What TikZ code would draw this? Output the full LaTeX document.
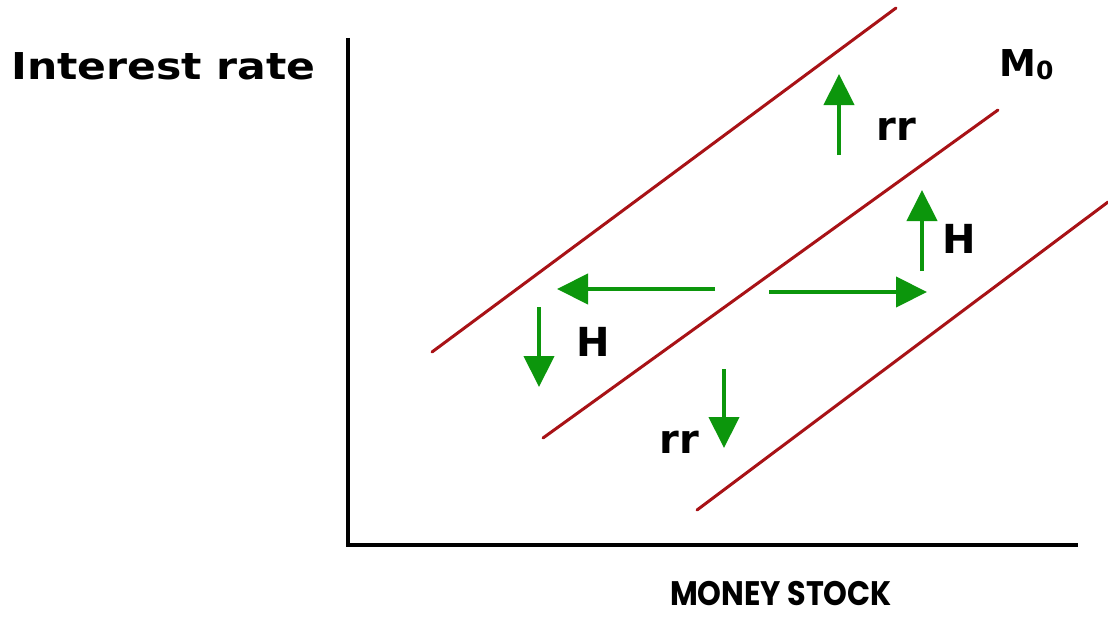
\documentclass[tikz,border=0pt]{standalone}
\usepackage{fontspec}
\setmainfont{DejaVu Sans}
\newfontfamily\verd[FakeStretch=1.15]{DejaVu Sans}
\newfontfamily\popp[FakeStretch=0.89]{Poppins}
\usetikzlibrary{arrows.meta}
\definecolor{redline}{RGB}{168,18,22}
\definecolor{greenarr}{RGB}{12,150,12}
\begin{document}
\begin{tikzpicture}[x=1pt,y=-1pt,
  axis/.style={line width=4pt,black},
  curve/.style={line width=3pt,redline,line cap=round},
  garrow/.style={line width=4.2pt,greenarr,-{Triangle[length=31pt,width=30pt]}},
  lbl/.style={inner sep=0pt,font=\fontsize{40}{40}\bfseries\selectfont},
  title/.style={inner sep=0pt,font=\fontsize{37}{37}\verd\bfseries\selectfont}]
\useasboundingbox (0,0) rectangle (1108,618);
% axes
\coordinate (Ytop) at (348,38);
\coordinate (O) at (348,545);
\coordinate (Xend) at (1078,545);
\draw[axis] (Ytop) -- (O) -- (Xend);
% money supply lines
\coordinate (a1) at (432,352); \coordinate (b1) at (896,8);
\coordinate (a2) at (543,438); \coordinate (b2) at (998,110);
\coordinate (a3) at (697,510); \coordinate (b3) at (1108,202);
\draw[curve] (a1) -- (b1);
\draw[curve] (a2) -- (b2);
\draw[curve] (a3) -- (b3);
% arrows
\coordinate (u1s) at (839,155); \coordinate (u1e) at (839,74);
\coordinate (u2s) at (922,271); \coordinate (u2e) at (922,190);
\coordinate (ls) at (715,289); \coordinate (le) at (557,289);
\coordinate (rs) at (769,292); \coordinate (re) at (927,292);
\coordinate (d1s) at (539,307); \coordinate (d1e) at (539,387);
\coordinate (d2s) at (724,369); \coordinate (d2e) at (724,448);
\draw[garrow] (u1s) -- (u1e);
\draw[garrow] (u2s) -- (u2e);
\draw[garrow] (ls) -- (le);
\draw[garrow] (rs) -- (re);
\draw[garrow] (d1s) -- (d1e);
\draw[garrow] (d2s) -- (d2e);
% labels
\node[lbl,anchor=base] (rr1) at (896,140) {rr};
\node[lbl,anchor=base] (h1) at (959,253) {H};
\node[lbl,anchor=base] (h2) at (593,356) {H};
\node[lbl,anchor=base] (rr2) at (679,453) {rr};
\node[title,anchor=base west] (yl) at (11,79) {Interest rate};
\node[inner sep=0pt,anchor=base west,font=\fontsize{37}{37}\bfseries\selectfont] (m0) at (999,77) {M\raisebox{-3pt}{\fontsize{25}{25}\selectfont 0}};
\node[inner sep=0pt,anchor=base,font=\fontsize{34}{34}\popp\bfseries\selectfont] (xl) at (781,605) {MONEY STOCK};
\end{tikzpicture}
\end{document}
